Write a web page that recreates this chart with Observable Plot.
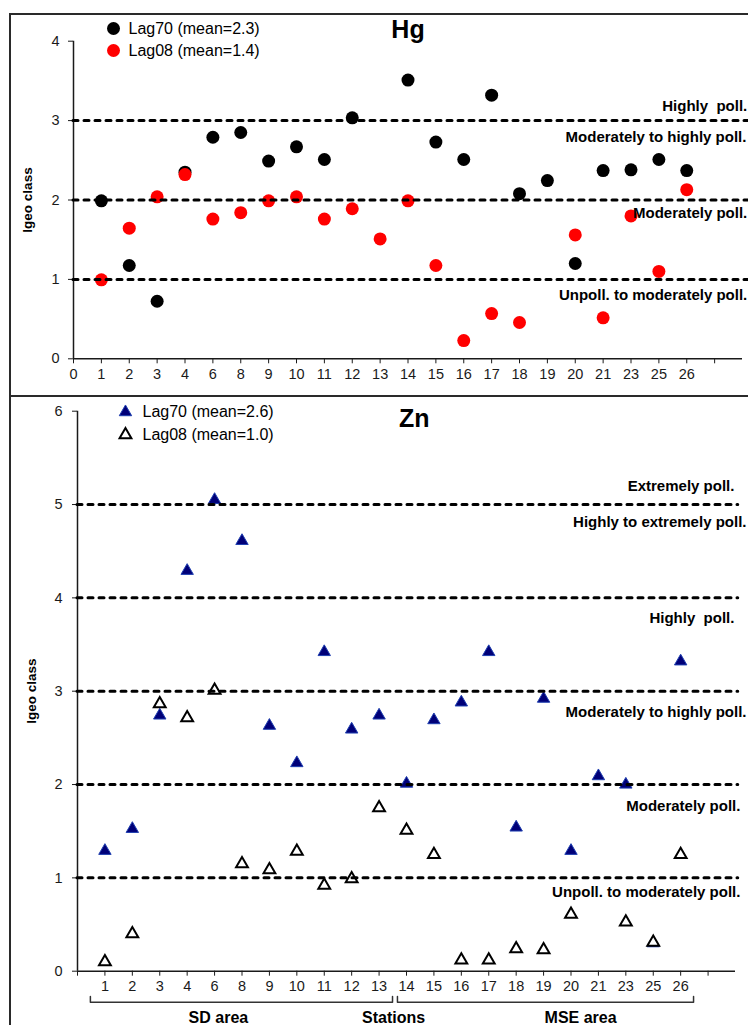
<!DOCTYPE html>
<html><head><meta charset="utf-8">
<script src="https://cdn.jsdelivr.net/npm/d3@7"></script>
<script src="https://cdn.jsdelivr.net/npm/@observablehq/plot@0.6"></script>
<style>
html,body{margin:0;padding:0;background:#fff;overflow:hidden}
#root{position:relative;width:748px;height:1025px;overflow:hidden;font-family:"Liberation Sans",Arial,sans-serif}
#root svg{position:absolute;left:0}
.frame{position:absolute;box-sizing:border-box;pointer-events:none;border-color:#2a2a2a;border-style:solid}
</style></head><body><div id="root"></div>
<script>
// ---- data ----
const stations = ["1","2","3","4","6","8","9","10","11","12","13","14","15","16","17","18","19","20","21","23","25","26"];
const topTickLabels = ["0", ...stations];
const bottomTickLabels = ["", ...stations];

const hgLag70 = [1.99,1.175,0.725,2.35,2.79,2.85,2.49,2.67,2.51,3.035,null,3.51,2.73,2.51,3.32,2.08,2.245,1.20,2.37,2.38,2.51,2.37];
const hgLag08 = [0.995,1.645,2.04,2.32,1.76,1.84,1.99,2.04,1.76,1.89,1.51,1.99,1.175,0.23,0.57,0.457,null,1.56,0.516,1.80,1.10,2.13];

const znLag70 = [1.29,1.525,2.74,4.29,5.05,4.61,2.63,2.23,3.42,2.59,2.74,2.01,2.69,2.88,3.42,1.54,2.92,1.29,2.09,2.00,0.30,3.32];
const znLag08 = [0.10,0.40,2.865,2.715,3.01,1.15,1.085,1.285,0.92,0.99,1.75,1.51,1.25,0.12,0.12,0.24,0.23,0.61,null,0.525,0.31,1.25];

const hgLegend = ["Lag70 (mean=2.3)", "Lag08 (mean=1.4)"];
const znLegend = ["Lag70 (mean=2.6)", "Lag08 (mean=1.0)"];

const hgBounds = [1, 2, 3];
const znBounds = [1, 2, 3, 4, 5];

const hgZones = [
  {text: "Highly\u00a0 poll.", y: 3.18, xEnd: 24.17},
  {text: "Moderately to highly poll.", y: 2.79, xEnd: 24.14},
  {text: "Moderately poll.", y: 1.84, xEnd: 24.17},
  {text: "Unpoll. to moderately poll.", y: 0.80, xEnd: 24.17}
];
const znZones = [
  {text: "Extremely poll.", y: 5.20, xEnd: 23.96},
  {text: "Highly to extremely poll.", y: 4.81, xEnd: 24.4},
  {text: "Highly\u00a0 poll.", y: 3.78, xEnd: 23.96},
  {text: "Moderately to highly poll.", y: 2.78, xEnd: 24.4},
  {text: "Moderately poll.", y: 1.77, xEnd: 24.18},
  {text: "Unpoll. to moderately poll.", y: 0.85, xEnd: 24.18}
];
const groups = [
  {name: "SD area", x: 5.14},
  {name: "Stations", x: 11.53},
  {name: "MSE area", x: 18.35}
];
const brackets = [
  {g: "SD", from: 0.47, to: 11.49},
  {g: "MSE", from: 11.67, to: 22.47}
];

// ---- build ----
const FONT = '"Liberation Sans", Arial, sans-serif';
const AX = "#1a1a1a";
const rows = (a, b) => stations.map((s, i) => ({x: i + 1, a: a[i], b: b[i]}));
const hgRows = rows(hgLag70, hgLag08);
const znRows = rows(znLag70, znLag08);
const dash = {stroke: "black", strokeWidth: 3, strokeDasharray: "5,6", strokeLinecap: "round"};
const intFmt = (d) => String(d);
const yTitle = {frameAnchor: "left", textAnchor: "middle", lineAnchor: "middle", dx: -46, rotate: -90, fontWeight: "bold", fontSize: 13.5, fill: "black"};

const root = document.getElementById("root");

// Top panel: Hg
const unitTop = 669 / 24;
const hg = Plot.plot({
  width: 748, height: 396,
  marginLeft: 73, marginRight: 0, marginTop: 40.7, marginBottom: 37.7,
  x: {domain: [0, 675 / unitTop], label: null},
  y: {domain: [0, 4], label: null},
  style: {fontFamily: FONT, fontSize: "14px", background: "transparent", color: AX},
  marks: [
    Plot.axisX({ticks: d3.range(0, 24), tickFormat: (d) => topTickLabels[d] ?? "", tickSize: 5, tickPadding: 5, fontSize: 14.5, label: null}),
    Plot.axisY({ticks: [0, 1, 2, 3, 4], tickFormat: intFmt, tickSize: 5, tickPadding: 9, fontSize: 14.5, label: null}),
    Plot.ruleY([0], {x1: 0, x2: 24, stroke: AX, strokeWidth: 1.5}),
    Plot.ruleX([0], {y1: 0, y2: 4, stroke: AX, strokeWidth: 1.5}),
    Plot.dot(hgRows.filter((d) => d.a != null), {x: "x", y: "a", r: 6.5, fill: "black"}),
    Plot.dot(hgRows.filter((d) => d.b != null), {x: "x", y: "b", r: 6.5, fill: "#ff0000"}),
    Plot.ruleY(hgBounds, {x1: 0, x2: 24.3, ...dash}),
    Plot.text(hgZones, {x: "xEnd", y: "y", text: "text", textAnchor: "end", fontWeight: "bold", fontSize: 15, fill: "black"}),
    Plot.text(["Igeo class"], yTitle),
    Plot.text(["Hg"], {x: 12.0, y: 4.135, fontWeight: "bold", fontSize: 25, fill: "black"}),
    Plot.dot(hgLegend, {x: 1.435, y: (d, i) => 4.16 - i * 0.277, r: 6.5, fill: (d, i) => i === 0 ? "black" : "#ff0000"}),
    Plot.text(hgLegend, {x: 1.973, y: (d, i) => 4.16 - i * 0.277, text: (d) => d, textAnchor: "start", fontSize: 16, fill: "black"})
  ]
});
hg.style.top = "0px";
root.appendChild(hg);

// Bottom panel: Zn
const unitBot = 658 / 24;
const zn = Plot.plot({
  width: 748, height: 628,
  marginLeft: 77, marginRight: 0, marginTop: 13.7, marginBottom: 54.3,
  x: {domain: [0, 671 / unitBot], label: null},
  y: {domain: [0, 6], label: null},
  style: {fontFamily: FONT, fontSize: "14px", background: "transparent", color: AX},
  marks: [
    Plot.axisX({ticks: d3.range(0, 24), tickFormat: (d) => bottomTickLabels[d] ?? "", tickSize: 5, tickPadding: 5, fontSize: 14.5, label: null}),
    Plot.axisY({ticks: [0, 1, 2, 3, 4, 5, 6], tickFormat: intFmt, tickSize: 5, tickPadding: 10, fontSize: 14.5, label: null}),
    Plot.ruleY([0], {x1: 0, x2: 24, stroke: AX, strokeWidth: 1.5}),
    Plot.ruleX([0], {y1: 0, y2: 6, stroke: AX, strokeWidth: 1.5}),
    Plot.dot(znRows.filter((d) => d.a != null), {x: "x", y: "a", r: 4.6, symbol: "triangle", fill: "#000078", stroke: "#1f3fb0", strokeWidth: 1}),
    Plot.dot(znRows.filter((d) => d.b != null), {x: "x", y: "b", r: 4.4, symbol: "triangle", fill: "white", stroke: "black", strokeWidth: 2}),
    Plot.ruleY(znBounds, {x1: 0, x2: 24.1, ...dash}),
    Plot.text(znZones, {x: "xEnd", y: "y", text: "text", textAnchor: "end", fontWeight: "bold", fontSize: 15, fill: "black"}),
    Plot.text(["Igeo class"], yTitle),
    Plot.text(["Zn"], {x: 12.28, y: 5.92, fontWeight: "bold", fontSize: 25, fill: "black"}),
    Plot.dot([znLegend[0]], {x: 1.75, y: 5.99, r: 4.6, symbol: "triangle", fill: "#000078", stroke: "#1f3fb0", strokeWidth: 1}),
    Plot.dot([znLegend[1]], {x: 1.75, y: 5.747, r: 4.4, symbol: "triangle", fill: "white", stroke: "black", strokeWidth: 2}),
    Plot.text(znLegend, {x: 2.37, y: (d, i) => 5.99 - i * 0.243, text: (d) => d, textAnchor: "start", fontSize: 16, fill: "black"}),
    Plot.line(brackets.flatMap((b) => [
      {g: b.g, x: b.from, y: -0.27}, {g: b.g, x: b.from, y: -0.332},
      {g: b.g, x: b.to, y: -0.332}, {g: b.g, x: b.to, y: -0.27}
    ]), {x: "x", y: "y", z: "g", stroke: "#333", strokeWidth: 1.5}),
    Plot.text(groups, {x: "x", y: -0.5, text: "name", fontWeight: "bold", fontSize: 16, fill: "black"})
  ]
});
zn.style.top = "397px";
root.appendChild(zn);

// panel frames
const f1 = document.createElement("div");
f1.className = "frame";
Object.assign(f1.style, {left: "9px", top: "13px", width: "800px", height: "384px", borderWidth: "2px"});
root.appendChild(f1);
const f2 = document.createElement("div");
f2.className = "frame";
Object.assign(f2.style, {left: "9px", top: "395px", width: "800px", height: "700px", borderWidth: "0 0 0 2px"});
root.appendChild(f2);
</script></body></html>
